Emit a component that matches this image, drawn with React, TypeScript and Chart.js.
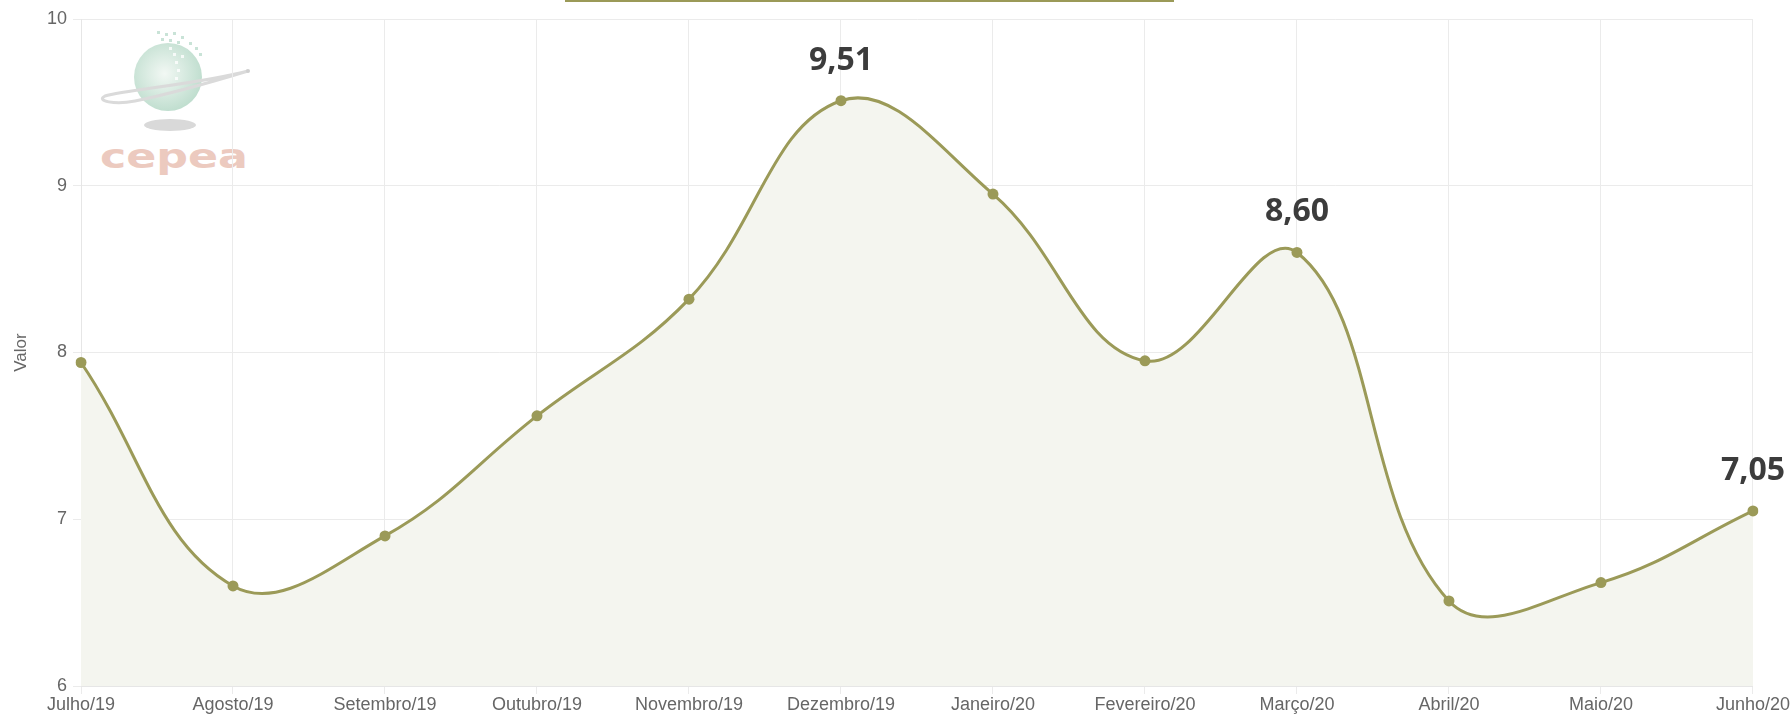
import React, { useEffect, useRef } from "react";
import { Chart, registerables } from "chart.js";

Chart.register(...registerables);

const categories = [
  "Julho/19", "Agosto/19", "Setembro/19", "Outubro/19", "Novembro/19", "Dezembro/19",
  "Janeiro/20", "Fevereiro/20", "Março/20", "Abril/20", "Maio/20", "Junho/20",
];
const values = [7.94, 6.6, 6.9, 7.62, 8.32, 9.51, 8.95, 7.95, 8.6, 6.51, 6.62, 7.05];
const labeledPoints = [false, false, false, false, false, true, false, false, true, false, false, true];
const yTicks = [6, 7, 8, 9, 10];

const LINE = "#9b9a58";
const FILL = "#f4f5ef";

const valueLabelPlugin = {
  id: "valueLabels",
  afterDatasetsDraw(chart: any) {
    const meta = chart.getDatasetMeta(0);
    const ctx = chart.ctx;
    ctx.save();
    ctx.font = "bold 32px 'Open Sans'";
    ctx.fillStyle = "#3c3c3c";
    ctx.textAlign = "center";
    ctx.textBaseline = "alphabetic";
    meta.data.forEach((pt: any, i: number) => {
      if (!labeledPoints[i]) return;
      const txt = values[i].toFixed(2).replace(".", ",");
      ctx.fillText(txt, pt.x, pt.y - 31);
    });
    ctx.restore();
  },
};

export default function App() {
  const ref = useRef<HTMLCanvasElement>(null);
  useEffect(() => {
    document.body.style.margin = "0";
    const chart = new Chart(ref.current!, {
      type: "line",
      data: {
        labels: categories,
        datasets: [
          {
            label: "Valor",
            data: values,
            borderColor: LINE,
            backgroundColor: FILL,
            borderWidth: 3,
            pointRadius: 5.5,
            pointBackgroundColor: LINE,
            pointBorderColor: LINE,
            pointBorderWidth: 0,
            tension: 0.4,
            fill: "start",
          },
        ],
      },
      options: {
        animation: false,
        responsive: false,
        maintainAspectRatio: false,
        layout: { padding: { top: 19, right: 36, left: 0, bottom: 0 } },
        plugins: {
          legend: { display: false },
          tooltip: { enabled: false },
        },
        scales: {
          x: {
            offset: false,
            grid: { color: "#ebebeb", lineWidth: 1, tickLength: 8 },
            border: { color: "#e6e6e6" },
            ticks: {
              color: "#666",
              font: { family: "'Liberation Sans', Arial", size: 18 },
              maxRotation: 0,
              autoSkip: false,
              padding: 0,
            },
            afterFit(scale: any) {
              scale.height = 29;
            },
          },
          y: {
            min: 6,
            max: 10,
            afterBuildTicks(scale: any) {
              scale.ticks = yTicks.map((v) => ({ value: v }));
            },
            grid: { color: "#ebebeb", lineWidth: 1, tickLength: 8 },
            border: { color: "#e6e6e6" },
            ticks: {
              color: "#666",
              font: { family: "'Liberation Sans', Arial", size: 18 },
              padding: 6,
            },
            title: {
              display: true,
              text: "Valor",
              color: "#666",
              font: { family: "'Liberation Sans', Arial", size: 17 },
              padding: { top: 11, bottom: 0 },
            },
            afterFit(scale: any) {
              scale.width = 81;
            },
          },
        },
      },
      plugins: [valueLabelPlugin],
    });
    return () => chart.destroy();
  }, []);

  return (
    <div style={{ position: "fixed", left: 0, top: 0, width: 1790, height: 715, background: "#fff" }}>
      <div style={{ position: "absolute", left: 565, top: 0, width: 609, height: 2, background: LINE }} />
      <svg
        style={{ position: "absolute", left: 95, top: 25, pointerEvents: "none" }}
        width="170"
        height="150"
        viewBox="0 0 170 150"
      >
        <defs>
          <radialGradient id="sph" cx="0.45" cy="0.45" r="0.6">
            <stop offset="0" stopColor="#f2f8f4" />
            <stop offset="1" stopColor="#bcdccc" />
          </radialGradient>
        </defs>
        <circle cx="73" cy="52" r="34" fill="url(#sph)" />
        <g fill="#c9e3d7">
          <rect x="62" y="6" width="3" height="3" />
          <rect x="70" y="8" width="3" height="3" />
          <rect x="78" y="7" width="3" height="3" />
          <rect x="86" y="11" width="3" height="3" />
          <rect x="66" y="13" width="3" height="3" />
          <rect x="74" y="14" width="3" height="3" />
          <rect x="82" y="16" width="3" height="3" />
          <rect x="94" y="17" width="3" height="3" />
          <rect x="100" y="22" width="3" height="3" />
          <rect x="90" y="24" width="3" height="3" />
          <rect x="104" y="28" width="3" height="3" />
        </g>
        <g fill="#ffffff" opacity="0.8">
          <rect x="74" y="22" width="3" height="3" />
          <rect x="78" y="28" width="3" height="3" />
          <rect x="80" y="36" width="3" height="3" />
          <rect x="82" y="44" width="3" height="3" />
          <rect x="80" y="52" width="3" height="3" />
          <rect x="86" y="30" width="3" height="3" />
        </g>
        <path d="M 153 46 C 110 58, 30 65, 10 71 C 0 76, 20 80, 40 76 C 80 68, 120 56, 153 46" fill="none" stroke="#dadada" strokeWidth="3" />
        <circle cx="153" cy="46" r="2" fill="#cfcfcf" />
        <ellipse cx="75" cy="100" rx="26" ry="6" fill="#d9d9d9" />
        <text x="5" y="143" fill="#eccabf" fontFamily="'DejaVu Sans'" fontSize="34" fontWeight="bold" textLength="148" lengthAdjust="spacingAndGlyphs">
          cepea
        </text>
      </svg>
      <canvas ref={ref} width={1790} height={715} style={{ position: "absolute", left: 0, top: 0 }} />
    </div>
  );
}
